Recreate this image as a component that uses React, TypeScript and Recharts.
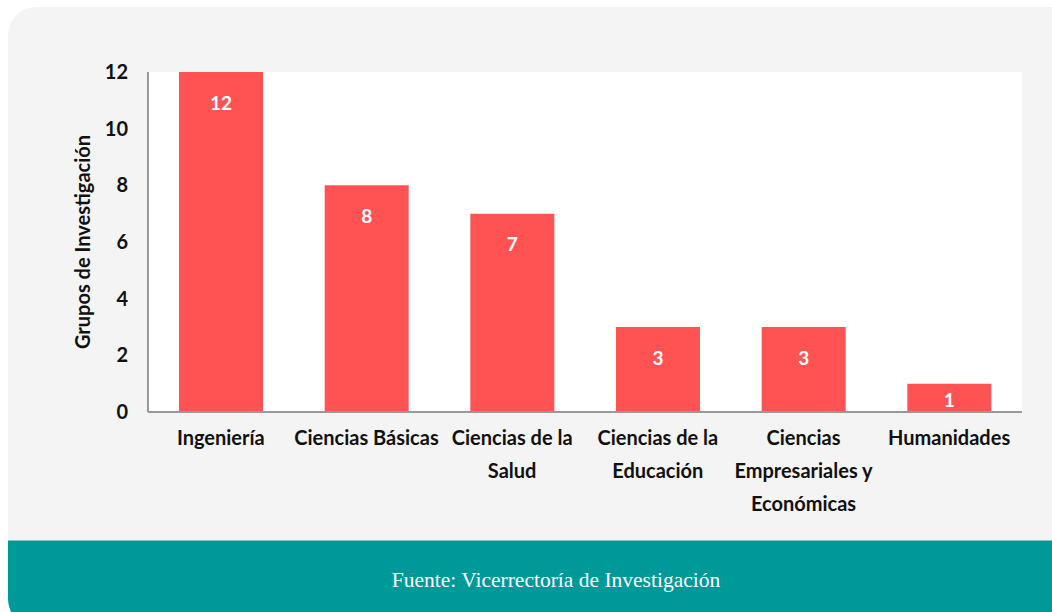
import React from 'react';
import { BarChart, Bar, XAxis, YAxis, CartesianGrid, LabelList } from 'recharts';

const categories = [
    'Ingeniería',
    'Ciencias Básicas',
    'Ciencias de la Salud',
    'Ciencias de la Educación',
    'Ciencias Empresariales y Económicas',
    'Humanidades',
];
const groups = [12, 8, 7, 3, 3, 1];
const tickLines = [
    ['Ingeniería'],
    ['Ciencias Básicas'],
    ['Ciencias de la', 'Salud'],
    ['Ciencias de la', 'Educación'],
    ['Ciencias', 'Empresariales y', 'Económicas'],
    ['Humanidades'],
];
const yTicks = [0, 2, 4, 6, 8, 10, 12];

const data = categories.map((name, i) => ({ name, value: groups[i] }));

const FONT = 'Lato, "Open Sans", sans-serif';

const CategoryTick = (props: any) => {
    const { x, y, index } = props;
    const lines = tickLines[index] || [];
    return (
        <text x={x} y={y} textAnchor="middle" fill="#111" fontFamily={FONT} fontWeight={700} fontSize={20}>
            {lines.map((line, i) => (
                <tspan key={i} x={x} dy={i === 0 ? 25 : 33}>{line}</tspan>
            ))}
        </text>
    );
};

const ValueLabel = (props: any) => {
    const { x, y, width, height, value } = props;
    const cy = Math.min(y + 30, y + height / 2 + 1.5);
    return (
        <text x={x + width / 2} y={cy} textAnchor="middle" dominantBaseline="central" fill="#fff"
            fontFamily={FONT} fontWeight={700} fontSize={19}>
            {value}
        </text>
    );
};

const YTitle = (props: any) => {
    const { viewBox } = props;
    const cx = viewBox.x + 22;
    const cy = viewBox.y + viewBox.height / 2;
    return (
        <text x={cx} y={cy} transform={`rotate(-90, ${cx}, ${cy})`} textAnchor="middle" dominantBaseline="central"
            fill="#111" fontFamily={FONT} fontWeight={700} fontSize={20}>
            Grupos de Investigación
        </text>
    );
};

export default function App() {
    return (
        <div style={{ position: 'absolute', left: 0, top: 0, width: 1052, height: 612, overflow: 'hidden', background: '#fff' }}>
            <div style={{
                position: 'absolute', left: 8, top: 7, width: 1096, height: 620,
                background: '#f4f4f4', borderTopLeftRadius: 28, borderBottomLeftRadius: 28, overflow: 'hidden',
            }}>
                <div style={{
                    position: 'absolute', left: 0, top: 533, width: '100%', height: 87,
                    background: '#009999', borderTop: '1px solid #7cc9c6',
                }}>
                    <div style={{
                        position: 'absolute', left: 0, width: '100%', top: 27, textAlign: 'center',
                        color: '#fff', fontFamily: '"Liberation Serif", serif', fontSize: 21.5,
                    }}>
                        Fuente: Vicerrectoría de Investigación
                    </div>
                </div>
            </div>
            <div style={{ position: 'absolute', left: 0, top: 0 }}>
                <BarChart width={1052} height={540} data={data} margin={{ top: 72, right: 30, left: 60, bottom: 18 }}>
                    <CartesianGrid horizontal={false} vertical={false} fill="#ffffff" stroke="none" />
                    <XAxis
                        dataKey="name"
                        interval={0}
                        height={110}
                        axisLine={{ stroke: '#999', strokeWidth: 2 }}
                        tickLine={false}
                        tick={<CategoryTick />}
                    />
                    <YAxis
                        width={88}
                        domain={[0, 12]}
                        ticks={yTicks}
                        interval={0}
                        axisLine={{ stroke: '#999', strokeWidth: 2 }}
                        tickLine={false}
                        tickSize={0}
                        tickMargin={20}
                        tick={{ fill: '#111', fontFamily: FONT, fontWeight: 700, fontSize: 20 }}
                        label={<YTitle />}
                    />
                    <Bar dataKey="value" fill="#ff5252" barSize={84} isAnimationActive={false}>
                        <LabelList dataKey="value" content={<ValueLabel />} />
                    </Bar>
                </BarChart>
            </div>
        </div>
    );
}
